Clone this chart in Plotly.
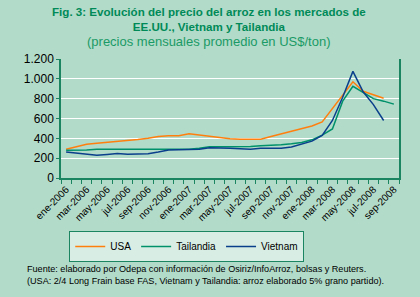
import plotly.graph_objects as go

meses = [
    "ene-2006", "feb-2006", "mar-2006", "abr-2006", "may-2006", "jun-2006",
    "jul-2006", "ago-2006", "sep-2006", "oct-2006", "nov-2006", "dic-2006",
    "ene-2007", "feb-2007", "mar-2007", "abr-2007", "may-2007", "jun-2007",
    "jul-2007", "ago-2007", "sep-2007", "oct-2007", "nov-2007", "dic-2007",
    "ene-2008", "feb-2008", "mar-2008", "abr-2008", "may-2008", "jun-2008",
    "jul-2008", "ago-2008", "sep-2008",
]

usa = [290, 318, 340, 350, 358, 366, 376, 388, 400, 418, 425, 425,
       445, 432, 420, 408, 395, 390, 390, 392, 418, 445, 472, 498,
       525, 565, 700, 835, 970, 875, 840, 805, None]

tailandia = [280, 280, 282, 290, 290, 290, 290, 290, 290, 290, 290, 290,
             290, 300, 315, 315, 315, 316, 318, 324, 328, 336, 345, 358,
             385, 432, 495, 775, 925, 860, 800, 775, 745]

vietnam = [262, 250, 240, 230, 238, 248, 240, 240, 245, 262, 283, 285,
           285, 290, 305, 305, 300, 295, 290, 300, 298, 300, 312, 343,
           372, 430, 580, 815, 1075, 870, 740, 580, None]

x = list(range(len(meses)))

fondo = "#b2dbc9"
verde_eje = "#1a8560"
fuente = "Arial, Liberation Sans, sans-serif"

fig = go.Figure()
fig.add_trace(go.Scatter(x=x, y=usa, mode="lines", name="USA",
                         line=dict(color="#ff7f0e", width=1.5)))
fig.add_trace(go.Scatter(x=x, y=tailandia, mode="lines", name="Tailandia",
                         line=dict(color="#00906a", width=1.5)))
fig.add_trace(go.Scatter(x=x, y=vietnam, mode="lines", name="Vietnam",
                         line=dict(color="#0a3f8c", width=1.5)))

fig.update_layout(
    width=420, height=297,
    paper_bgcolor=fondo, plot_bgcolor=fondo,
    margin=dict(l=61, r=21, t=59, b=119),
    font=dict(family=fuente, color="black"),
    separators=",.",
    showlegend=True,
    legend=dict(orientation="h", x=0.372, xanchor="center", y=-0.445, yanchor="top",
                bgcolor="#d8eee4", bordercolor=verde_eje, borderwidth=1,
                font=dict(size=10, family=fuente), itemwidth=30, tracegroupgap=0),
    xaxis=dict(range=[-0.5, 32.5], tickvals=x[::2], ticktext=meses[::2],
               tickangle=-45, tickfont=dict(size=10), ticks="", showgrid=False,
               showline=True, linecolor=verde_eje, linewidth=1.5, automargin=False,
               minor=dict(ticks="outside", tick0=-0.5, dtick=1, ticklen=4,
                          tickcolor=verde_eje, showgrid=False),
               zeroline=False),
    yaxis=dict(range=[0, 1200], dtick=200, separatethousands=True, tickformat=",d",
               tickfont=dict(size=12), ticks="outside", ticklen=3, tickcolor=verde_eje,
               showline=True, linecolor=verde_eje, linewidth=1.5, mirror=True,
               automargin=False, gridcolor="white", gridwidth=1, zeroline=False),
)

fig.add_annotation(xref="paper", yref="paper", x=0.438, y=1.336, xanchor="center",
                   yanchor="middle", showarrow=False,
                   text="<b>Fig. 3: Evolución del precio del arroz en los mercados de<br>EE.UU., Vietnam y Tailandia</b>",
                   font=dict(size=11.6, family=fuente, color="#008a58"))
fig.add_annotation(xref="paper", yref="paper", x=0.438, y=1.143, xanchor="center",
                   yanchor="middle", showarrow=False,
                   text="(precios mensuales promedio en US$/ton)",
                   font=dict(size=13, family=fuente, color="#1a9a66"))
fig.add_annotation(xref="paper", yref="paper", x=-0.1065, y=-0.819, xanchor="left",
                   yanchor="middle", align="left", showarrow=False,
                   text="Fuente: elaborado por Odepa con información de Osiriz/InfoArroz, bolsas y Reuters.<br>"
                        "(USA: 2/4 Long Frain base FAS, Vietnam y Tailandia: arroz elaborado 5% grano partido).",
                   font=dict(size=9.1, family=fuente, color="black"))

fig.write_html("out.html", config={"displayModeBar": False},
               post_script="document.body.style.margin='0';")
